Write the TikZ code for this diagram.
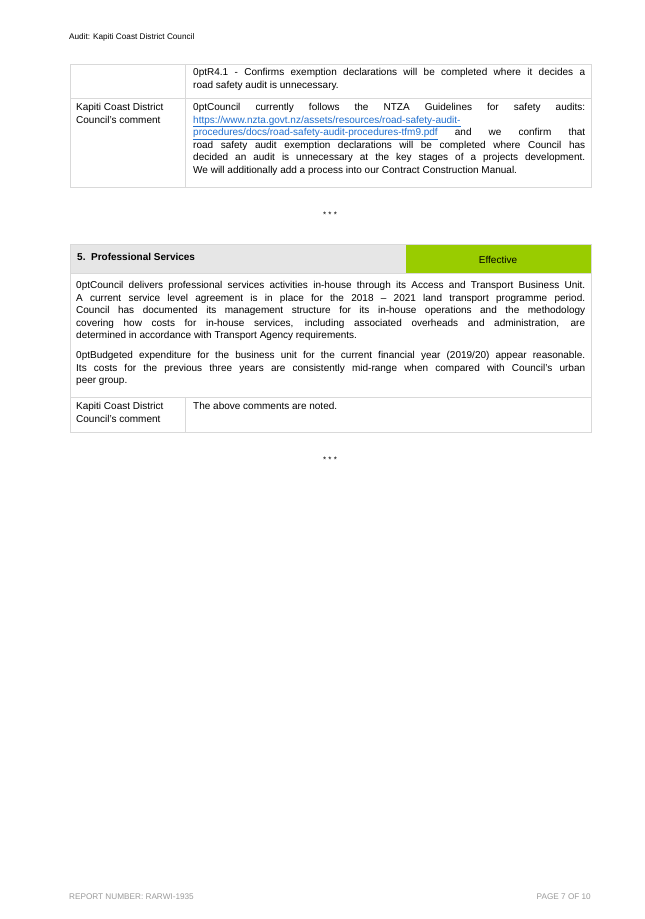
\documentclass[tikz,border=0pt]{standalone}
\usepackage{fontspec}
\setmainfont{Liberation Sans}
\definecolor{bord}{HTML}{D9D9D9}
\definecolor{hdr}{HTML}{E6E6E6}
\definecolor{grn}{HTML}{99CC00}
\definecolor{lnk}{HTML}{1F6FD0}
\definecolor{foot}{HTML}{9A9A9A}
\tikzset{
 txt/.style={anchor=north west,inner sep=0,align=justify,font=\fontsize{10}{12.6}\selectfont\hyphenpenalty=10000\exhyphenpenalty=10000},
 lbl/.style={anchor=north west,inner sep=0,align=left,font=\fontsize{10}{12.6}\selectfont},
 cell/.style={draw=bord,line width=0.8pt}
}
\newcommand{\lk}[1]{\textcolor{lnk}{\underline{#1}}}
\begin{document}
\begin{tikzpicture}[x=1pt,y=-1pt]
\useasboundingbox[fill=white] (0,0) rectangle (645,919);
\node[anchor=west,inner sep=0,font=\fontsize{8.2}{9}\selectfont] (head) at (69,37) {Audit: Kapiti Coast District Council};
% table 1
\draw[cell] (70,64) rectangle (591,187);
\draw[cell] (70,98) -- (591,98);
\draw[cell] (185,64) -- (185,187);
\node[txt,text width=392] (r41) at (193,68) {R4.1 - Confirms exemption declarations will be completed where it decides a\linebreak road safety audit is unnecessary.};
\node[lbl] (k1) at (76,103) {Kapiti Coast District\\Council's comment};
\node[txt,text width=392] (c1) at (193,103) {Council currently follows the NTZA Guidelines for safety audits:\linebreak
\lk{https://www.nzta.govt.nz/assets/resources/road-safety-audit-}\\
\lk{procedures/docs/road-safety-audit-procedures-tfm9.pdf} and we confirm that\linebreak road safety audit exemption declarations will be completed where Council has\linebreak decided an audit is unnecessary at the key stages of a projects development.\linebreak We will additionally add a process into our Contract Construction Manual.};
\node[font=\fontsize{8}{8}\selectfont,inner sep=0] (s1) at (330,215) {* * *};
% table 2
\fill[hdr] (70,244) rectangle (406,273);
\fill[grn] (406,244) rectangle (591,273);
\draw[cell] (70,244) rectangle (591,432);
\draw[cell] (70,273) -- (591,273);
\draw[cell] (70,397) -- (591,397);
\draw[cell] (185,397) -- (185,432);
\node[anchor=west,inner sep=0,font=\fontsize{10}{10}\selectfont\bfseries] (t5) at (77,257) {5.\ \ Professional Services};
\node[inner sep=0,font=\fontsize{10}{10}\selectfont] (eff) at (498,260) {Effective};
\node[txt,text width=509] (p1) at (76,281) {Council delivers professional services activities in-house through its Access and Transport Business Unit.\linebreak A current service level agreement is in place for the 2018 -- 2021 land transport programme period.\linebreak Council has documented its management structure for its in-house operations and the methodology\linebreak covering how costs for in-house services, including associated overheads and administration, are\linebreak determined in accordance with Transport Agency requirements.};
\node[txt,text width=509] (p2) at (76,351) {Budgeted expenditure for the business unit for the current financial year (2019/20) appear reasonable.\linebreak Its costs for the previous three years are consistently mid-range when compared with Council's urban\linebreak peer group.};
\node[lbl] (k2) at (76,402) {Kapiti Coast District\\Council's comment};
\node[lbl] (c2) at (193,402) {The above comments are noted.};
\node[font=\fontsize{8}{8}\selectfont,inner sep=0] (s2) at (330,460) {* * *};
% footer
\node[anchor=west,inner sep=0,text=foot,font=\fontsize{8.2}{9}\selectfont] (f1) at (69,897) {REPORT NUMBER: RARWI-1935};
\node[anchor=east,inner sep=0,text=foot,font=\fontsize{8.2}{9}\selectfont] (f2) at (591,897) {PAGE 7 OF 10};
\end{tikzpicture}
\end{document}
